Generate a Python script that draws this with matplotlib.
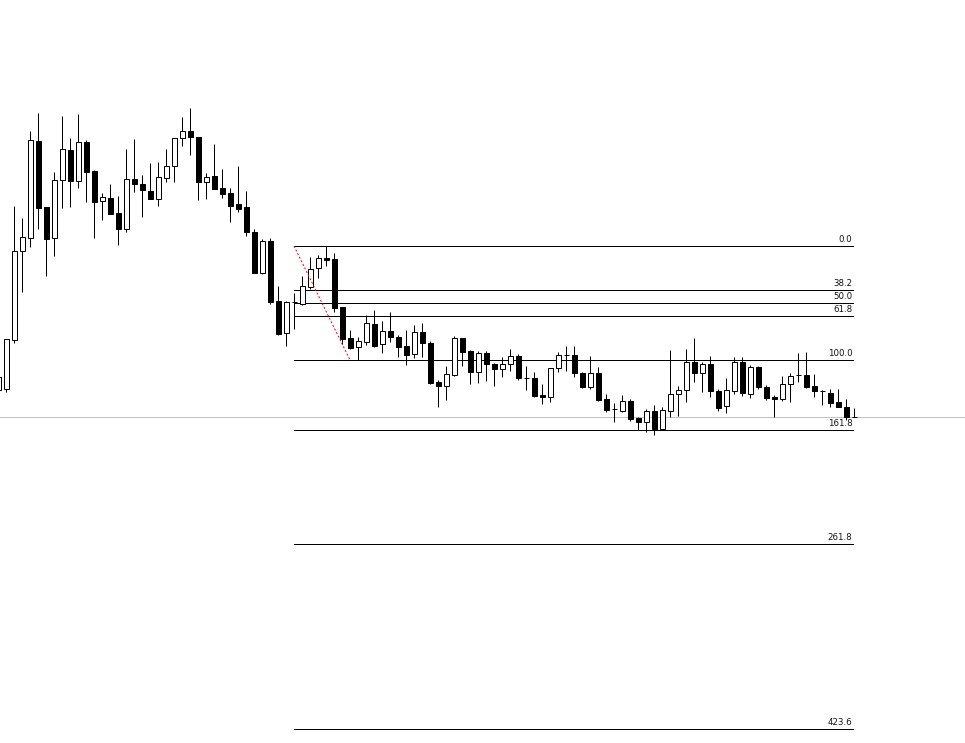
import matplotlib as mpl
import matplotlib.pyplot as plt
from matplotlib.patches import Rectangle

mpl.rcParams.update({"font.family": "DejaVu Sans"})

POINT = 0.0001  # prices stored in points

# candle index (bar position) -1 .. 106
opens = [13410, 13411, 13460, 13549, 13562, 13659, 13593, 13562, 13620, 13650,
         13619, 13658, 13629, 13599, 13602, 13587, 13571, 13621, 13616, 13609,
         13601, 13622, 13634, 13662, 13669, 13663, 13618, 13624, 13612, 13607,
         13596, 13593, 13568, 13527, 13559, 13499, 13467, 13498, 13496, 13513,
         13532, 13542, 13541, 13493, 13462, 13453, 13458, 13476, 13456, 13469,
         13463, 13454, 13446, 13468, 13457, 13418, 13414, 13425, 13462, 13449,
         13428, 13447, 13436, 13431, 13436, 13444, 13422, 13422, 13405, 13403,
         13432, 13445, 13445, 13427, 13413, 13427, 13401, 13391, 13389, 13399,
         13382, 13378, 13389, 13371, 13389, 13406, 13410, 13438, 13427, 13436,
         13409, 13394, 13409, 13438, 13406, 13433, 13413, 13403, 13401, 13416,
         13425, 13425, 13414, 13409, 13407, 13398, 13393, 13383]
highs = [13424, 13461, 13594, 13582, 13669, 13687, 13593, 13628, 13684, 13662,
         13686, 13660, 13630, 13607, 13616, 13604, 13651, 13661, 13625, 13637,
         13638, 13651, 13662, 13683, 13692, 13663, 13627, 13656, 13631, 13612,
         13634, 13609, 13571, 13561, 13562, 13514, 13499, 13507, 13524, 13543,
         13545, 13554, 13547, 13493, 13470, 13463, 13485, 13490, 13479, 13488,
         13465, 13470, 13475, 13477, 13459, 13420, 13434, 13464, 13462, 13450,
         13449, 13449, 13437, 13443, 13451, 13446, 13434, 13428, 13416, 13432,
         13448, 13454, 13454, 13428, 13444, 13433, 13406, 13397, 13405, 13401,
         13383, 13391, 13395, 13393, 13450, 13414, 13451, 13462, 13438, 13444,
         13411, 13422, 13443, 13443, 13435, 13434, 13415, 13405, 13424, 13427,
         13447, 13448, 13426, 13410, 13411, 13411, 13401, 13392]
lows = [13408, 13408, 13457, 13508, 13553, 13571, 13524, 13544, 13592, 13593,
        13612, 13598, 13562, 13580, 13586, 13555, 13568, 13608, 13583, 13601,
        13594, 13618, 13618, 13654, 13645, 13600, 13601, 13611, 13602, 13578,
        13588, 13564, 13527, 13526, 13496, 13465, 13454, 13471, 13495, 13511,
        13522, 13534, 13488, 13456, 13451, 13440, 13455, 13453, 13447, 13458,
        13443, 13435, 13442, 13443, 13416, 13393, 13400, 13424, 13434, 13416,
        13417, 13419, 13414, 13423, 13429, 13420, 13410, 13403, 13396, 13398,
        13428, 13429, 13423, 13412, 13411, 13399, 13388, 13378, 13388, 13379,
        13370, 13368, 13365, 13370, 13383, 13384, 13398, 13418, 13408, 13403,
        13389, 13387, 13406, 13404, 13402, 13411, 13400, 13383, 13399, 13398,
        13418, 13412, 13403, 13395, 13393, 13393, 13380, 13383]
closes = [13423, 13461, 13549, 13563, 13660, 13592, 13561, 13620, 13651, 13619,
          13658, 13628, 13598, 13603, 13586, 13571, 13621, 13616, 13610, 13601,
          13623, 13634, 13662, 13669, 13663, 13618, 13623, 13611, 13606, 13594,
          13591, 13568, 13527, 13559, 13498, 13466, 13498, 13498, 13514, 13531,
          13542, 13540, 13492, 13461, 13452, 13459, 13477, 13454, 13469, 13463,
          13453, 13445, 13468, 13457, 13417, 13414, 13426, 13462, 13448, 13428,
          13447, 13436, 13431, 13436, 13444, 13422, 13422, 13404, 13403, 13432,
          13445, 13445, 13427, 13413, 13427, 13400, 13390, 13391, 13399, 13381,
          13378, 13389, 13371, 13390, 13406, 13410, 13438, 13427, 13436, 13409,
          13392, 13410, 13438, 13407, 13433, 13413, 13402, 13401, 13416, 13424,
          13425, 13413, 13409, 13409, 13397, 13393, 13383, 13383]
bars = list(range(-1, len(opens) - 1))

# Fibonacci retracement anchors (bar, price in points)
fib_start = (36, 13554)
fib_end = (43, 13440)
fib_right = 105.9
fib_ratios = [0.0, 38.2, 50.0, 61.8, 100.0, 161.8, 261.8, 423.6]
fib_labels = ["0.0", "38.2", "50.0", "61.8", "100.0", "161.8", "261.8", "423.6"]

fig = plt.figure(figsize=(9.65, 7.43), dpi=100)
ax = fig.add_axes([0, 0, 1, 1])
ax.set_xlim(-0.75, 119.875)
ax.set_ylim(13057 * POINT, 13800 * POINT)
ax.axis("off")

px = 1 * 72 / 100  # one pixel in points
body_w = 0.625

# current price line
ax.axhline(closes[-1] * POINT, color="#c0c0c0", lw=px, zorder=1)

for x, o, h, l, c in zip(bars, opens, highs, lows, closes):
    o, h, l, c = o * POINT, h * POINT, l * POINT, c * POINT
    ax.plot([x, x], [l, h], color="black", lw=px, solid_capstyle="butt", zorder=3)
    lo, hi = min(o, c), max(o, c)
    face = "white" if c > o else "black"
    ax.add_patch(Rectangle((x - body_w / 2, lo), body_w, hi - lo,
                           facecolor=face, edgecolor="black", lw=px, zorder=4))

# fib levels
hi_p, lo_p = fib_start[1] * POINT, fib_end[1] * POINT
for r, lab in zip(fib_ratios, fib_labels):
    y = hi_p - r / 100 * (hi_p - lo_p)
    ax.plot([fib_start[0], fib_right], [y, y], color="black", lw=px, zorder=2)
    ax.text(fib_right - 0.1, y + 2 * POINT, lab, ha="right", va="bottom",
            fontsize=6.2, color="#111111")

# red dotted trend line between anchors
ax.plot([fib_start[0], fib_end[0]], [hi_p, lo_p], color="red", lw=px,
        linestyle=(0, (2, 2)), zorder=5)

fig.savefig("out.png", dpi=100)
